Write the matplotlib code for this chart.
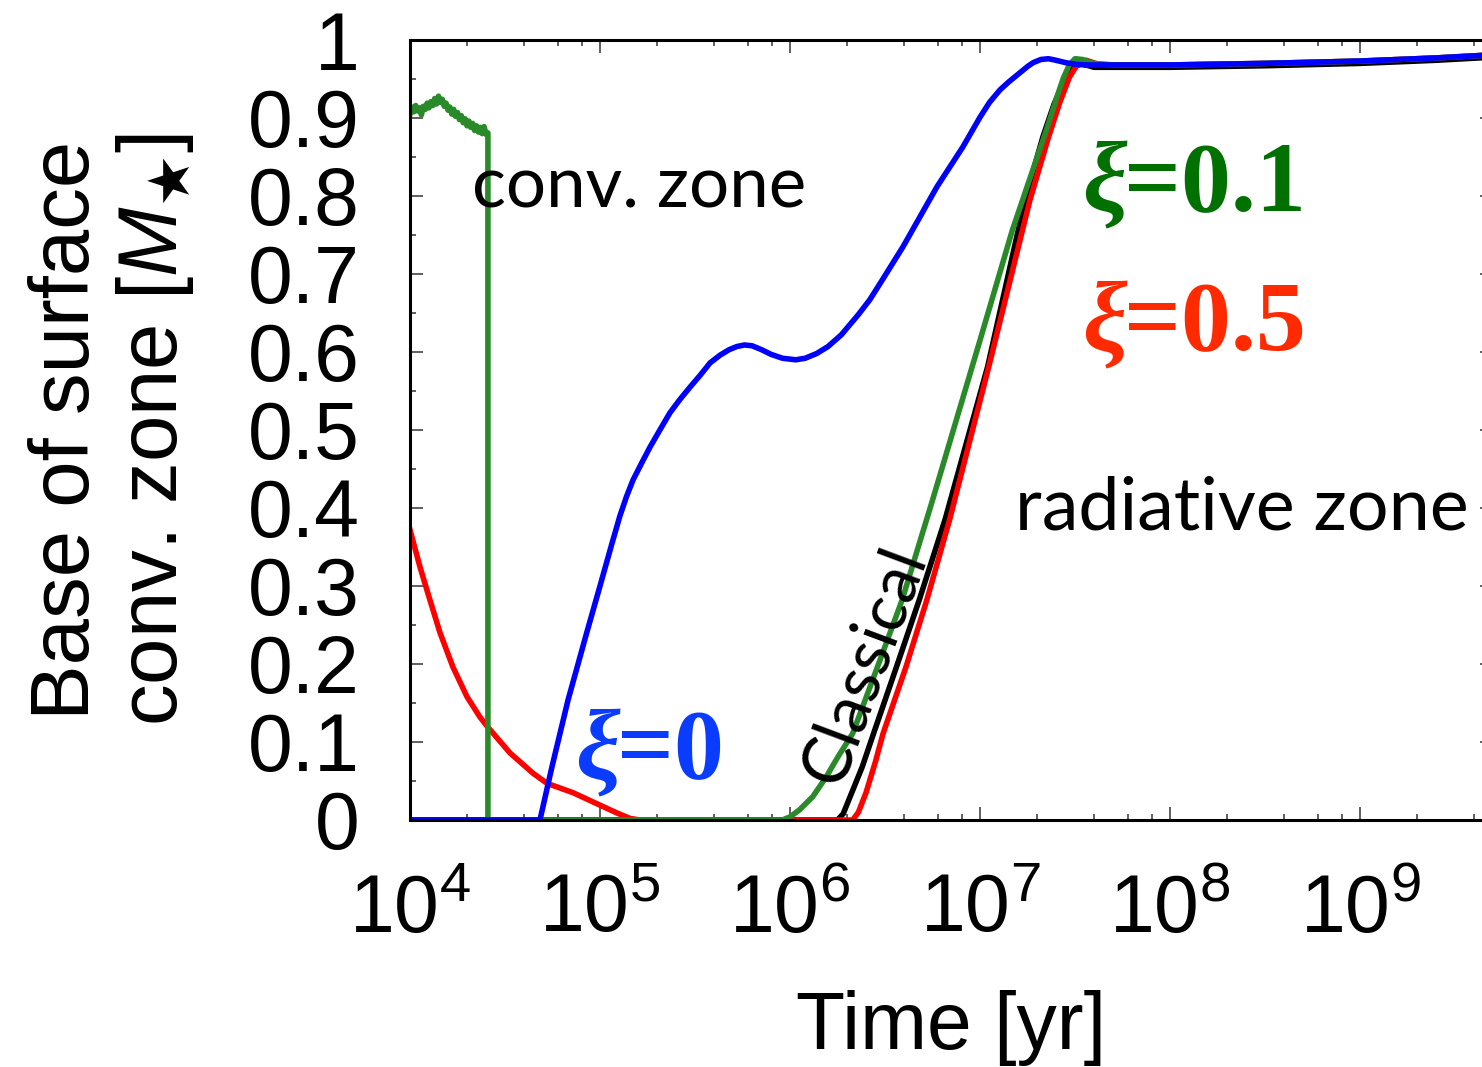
import numpy as np
import matplotlib
matplotlib.use("Agg")
import matplotlib.pyplot as plt
from matplotlib.ticker import LogLocator, MultipleLocator, FixedLocator, FixedFormatter, NullFormatter

plt.rcParams['font.family'] = ['Liberation Sans', 'DejaVu Sans']
plt.rcParams['mathtext.fontset'] = 'custom'
plt.rcParams['mathtext.rm'] = 'Liberation Sans'
plt.rcParams['mathtext.it'] = 'Liberation Sans:italic'
plt.rcParams['mathtext.sf'] = 'DejaVu Sans'

# log10(time/yr) and base of the surface convective zone [M_star]
# common late-time plateau, once every model is fully radiative
tail_logt = [7.7, 8.0, 8.5, 9.0, 9.4, 9.7]
tail_m = [0.968, 0.968, 0.970, 0.973, 0.977, 0.981]

# classical (no accretion heat)
classical_logt = [4.0, 6.25, 6.28, 6.31, 6.38, 6.44, 6.56, 6.68, 6.816, 7.04, 7.237,
                  7.33, 7.39, 7.44, 7.48, 7.53, 7.6]
classical_m = [0.0, 0.0, 0.008, 0.026, 0.068, 0.111, 0.196, 0.282, 0.385, 0.581, 0.795,
               0.875, 0.918, 0.945, 0.962, 0.970, 0.965]

# xi = 0.5
xi05_logt = [4.0, 4.053, 4.105, 4.158, 4.226, 4.30, 4.368, 4.41, 4.526, 4.647,
             4.721, 4.858, 5.0, 5.089, 5.158, 5.21,
             6.33, 6.36, 6.40, 6.45, 6.49, 6.61, 6.72, 6.84, 7.05, 7.263,
             7.36, 7.42, 7.47, 7.51, 7.56, 7.62]
xi05_m = [0.372, 0.324, 0.282, 0.24, 0.196, 0.158, 0.132, 0.119, 0.086, 0.060,
          0.047, 0.035, 0.019, 0.009, 0.002, 0.0,
          0.0, 0.010, 0.035, 0.075, 0.111, 0.196, 0.282, 0.385, 0.585, 0.795,
          0.875, 0.92, 0.952, 0.968, 0.974, 0.969]

# xi = 0.1 (noisy start, then the convective envelope vanishes at ~2.6e4 yr)
xi01_logt = [4.00, 4.01, 4.02, 4.03, 4.04, 4.05, 4.06, 4.07, 4.08, 4.09,
             4.10, 4.11, 4.12, 4.13, 4.14, 4.15, 4.16, 4.17, 4.18, 4.19,
             4.20, 4.21, 4.22, 4.23, 4.24, 4.25, 4.26, 4.27, 4.28, 4.29,
             4.30, 4.31, 4.32, 4.33, 4.34, 4.35, 4.36, 4.37, 4.38, 4.39,
             4.40, 4.41, 4.41,
             5.96, 6.0, 6.05, 6.12, 6.19, 6.25, 6.33, 6.46, 6.59, 6.75, 7.0, 7.17,
             7.29, 7.35, 7.405, 7.44, 7.47, 7.50, 7.54, 7.6]
xi01_m = [0.905, 0.914, 0.908, 0.916, 0.909, 0.913, 0.904, 0.915, 0.911, 0.919,
          0.913, 0.921, 0.916, 0.925, 0.918, 0.928, 0.920, 0.924, 0.915, 0.919,
          0.910, 0.914, 0.905, 0.911, 0.902, 0.907, 0.898, 0.903, 0.894, 0.899,
          0.890, 0.896, 0.888, 0.893, 0.884, 0.890, 0.882, 0.888, 0.880, 0.889,
          0.879, 0.881, 0.0,
          0.0, 0.004, 0.013, 0.03, 0.055, 0.08, 0.111, 0.196, 0.282, 0.41, 0.615, 0.756,
          0.842, 0.885, 0.927, 0.952, 0.968, 0.976, 0.975, 0.970]

# xi = 0
xi0_logt = [4.0, 4.684, 4.747, 4.832, 4.93, 5.0, 5.06, 5.105, 5.14, 5.174,
            5.22, 5.263, 5.315, 5.368, 5.42, 5.474, 5.53, 5.579, 5.632, 5.68,
            5.72, 5.76, 5.80, 5.85, 5.90, 5.96, 6.03, 6.08, 6.14, 6.20,
            6.27, 6.36, 6.42, 6.49, 6.595, 6.774, 6.91, 7.0, 7.05, 7.105,
            7.15, 7.21, 7.25, 7.28, 7.32, 7.36, 7.40, 7.45, 7.50, 7.55]
xi0_m = [0.0, 0.0, 0.068, 0.154, 0.24, 0.30, 0.352, 0.39, 0.415, 0.436,
         0.458, 0.478, 0.50, 0.522, 0.539, 0.555, 0.571, 0.586, 0.596, 0.603,
         0.607, 0.609, 0.608, 0.603, 0.597, 0.592, 0.590, 0.592, 0.598, 0.607,
         0.622, 0.648, 0.667, 0.694, 0.735, 0.812, 0.863, 0.901, 0.92, 0.936,
         0.946, 0.958, 0.966, 0.971, 0.975, 0.976, 0.974, 0.971, 0.969, 0.968]

y_ticks = [0.0, 0.1, 0.2, 0.3, 0.4, 0.5, 0.6, 0.7, 0.8, 0.9, 1.0]
y_ticklabels = ['0', '0.1', '0.2', '0.3', '0.4', '0.5', '0.6', '0.7', '0.8', '0.9', '1']


def curve(logt, m, tail_shift=0.0):
    t = np.power(10.0, list(logt) + tail_logt)
    y = np.array(list(m) + [v + tail_shift for v in tail_m])
    return t, y


W, H = 1482, 1067
fig = plt.figure(figsize=(W / 100, H / 100), dpi=100)
ax = fig.add_axes([410 / W, 1 - 820 / H, 1083 / W, 780 / H])

lw = 4.0
ax.plot(*curve(classical_logt, classical_m, -0.003), color='k', lw=lw)
ax.plot(*curve(xi05_logt, xi05_m), color='#ff0000', lw=lw)
ax.plot(*curve(xi01_logt, xi01_m), color='#2a8a2a', lw=lw)
ax.plot(*curve(xi0_logt, xi0_m), color='#0000ff', lw=lw)

ax.set_xscale('log')
ax.set_xlim(1e4, 10 ** 9.7)
ax.set_ylim(0, 1)
ax.xaxis.set_major_locator(LogLocator(base=10, numticks=20))
ax.xaxis.set_minor_locator(LogLocator(base=10, subs=(2, 4, 6, 8), numticks=20))
ax.xaxis.set_minor_formatter(NullFormatter())
ax.yaxis.set_major_locator(FixedLocator(y_ticks))
ax.yaxis.set_major_formatter(FixedFormatter(y_ticklabels))
ax.yaxis.set_minor_locator(MultipleLocator(0.05))

ax.tick_params(which='both', direction='in', top=True, right=True,
               color='#444444', width=1.2, labelsize=58)
ax.tick_params(which='major', length=9.5)
ax.tick_params(which='minor', length=4.5)
ax.tick_params(axis='x', pad=38)
ax.tick_params(axis='y', pad=36)
for s in ax.spines.values():
    s.set_linewidth(2.2)

ax.set_xlabel('Time [yr]', fontsize=58, labelpad=30)
ax.set_ylabel('Base of surface\nconv. zone [$M_{\\mathsf{\u2605}}$]', fontsize=60,
              linespacing=1.12)
ax.yaxis.set_label_coords(-0.198, 0.5)


def frac(px, py):
    return (px - 410) / 1083, (820 - py) / 780


ax.text(*frac(472, 207), 'conv. zone', family='Lato', fontsize=51,
        transform=ax.transAxes, ha='left', va='baseline')
ax.text(*frac(1015, 530), 'radiative zone', family='Lato', fontsize=53,
        transform=ax.transAxes, ha='left', va='baseline')
ax.text(*frac(865, 665), 'Classical', family='Lato', fontsize=48,
        transform=ax.transAxes, ha='center', va='center',
        rotation=69.5, rotation_mode='anchor')


def xi_label(px, py, value, color):
    xi = ax.text(*frac(px, py), '\u03be', family='Liberation Serif',
                 style='italic', weight='bold', fontsize=72, color=color,
                 transform=ax.transAxes, ha='left', va='baseline')
    ax.annotate('=' + value, xy=(1, 0), xycoords=xi, xytext=(-2, 0),
                textcoords='offset points', family='Liberation Serif',
                weight='bold', fontsize=72, color=color, ha='left', va='bottom')


xi_label(575, 778, '0', '#0a3cff')
xi_label(1082, 210, '0.1', '#007000')
xi_label(1082, 350, '0.5', '#ff2a00')

fig.savefig('out.png', dpi=100)
